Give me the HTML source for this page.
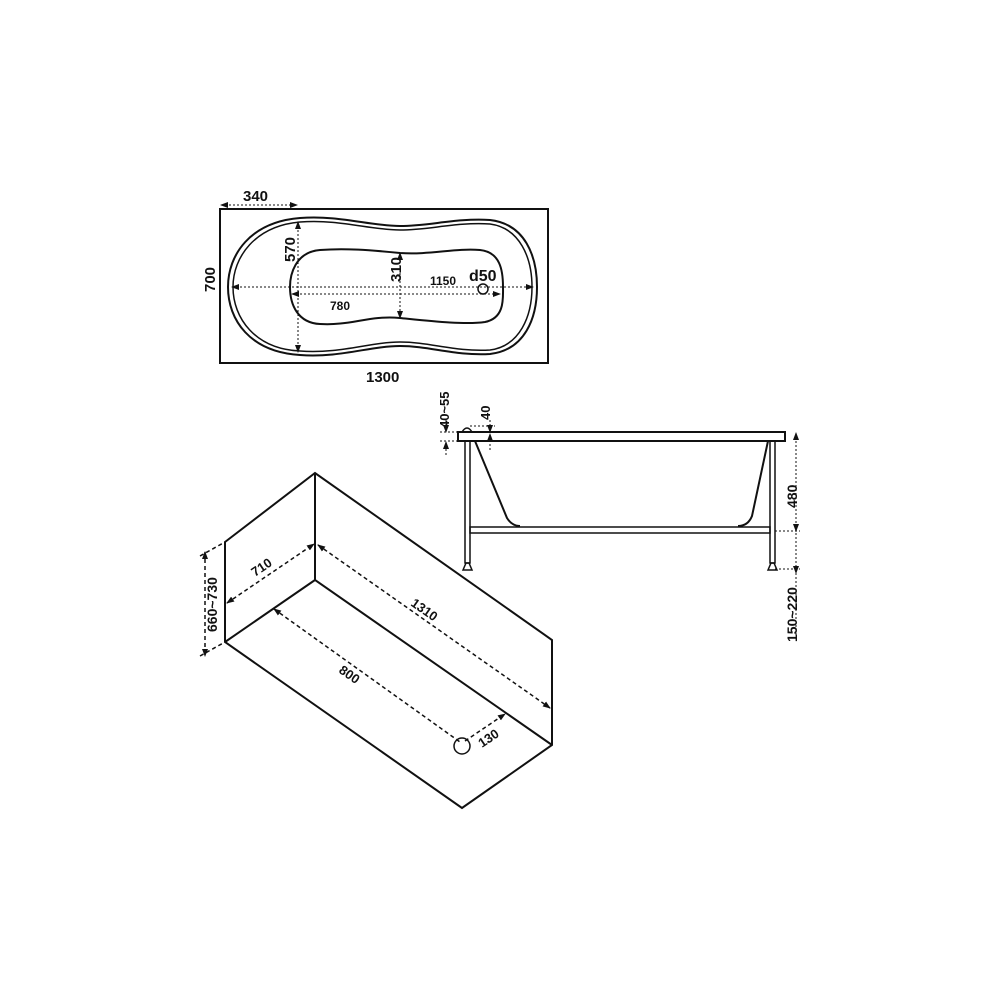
<!DOCTYPE html>
<html><head><style>body{margin:0;background:#fff}svg{display:block}text{font-family:"Liberation Sans",sans-serif;font-weight:bold;fill:#111}</style></head><body>
<svg width="1000" height="1000" viewBox="0 0 1000 1000" xmlns="http://www.w3.org/2000/svg">
<defs><marker id="a" markerWidth="8" markerHeight="8" refX="7" refY="4" orient="auto-start-reverse" markerUnits="userSpaceOnUse"><path d="M0,1 L8,4 L0,7z" fill="#111"/></marker></defs>
<g stroke="#111" fill="none">
<rect x="220" y="209" width="328" height="154" stroke-width="2"/>
<path d="M300,218 C250,222 228,255 228,287 C228,320 250,352 300,355 C340,358 370,346 400,346 C430,346 455,356 490,354 C525,350 537,318 537,287 C537,256 525,224 490,220 C455,218 430,226 400,226 C370,226 340,215 300,218Z" stroke-width="2"/>
<path d="M300,222 C255,226 233,257 233,287 C233,318 255,349 300,351 C340,354 370,342 400,342 C430,342 455,352 490,350 C520,346 532,316 532,287 C532,258 520,228 490,224 C455,222 430,230 400,230 C370,230 340,219 300,222Z" stroke-width="1.5"/>
<path d="M320,250 C295,252 290,275 290,287 C290,305 298,323 320,324 C350,326 370,315 400,318 C430,321 465,325 485,322 C505,318 503,298 503,287 C503,270 500,252 480,250 C455,248 430,255 400,253 C370,250 345,248 320,250Z" stroke-width="2"/>
<circle cx="483" cy="289" r="5" stroke-width="1.5"/>
<g stroke-width="1" stroke-dasharray="2,2">
<line x1="232" y1="287" x2="533" y2="287" marker-start="url(#a)" marker-end="url(#a)"/>
<line x1="292" y1="294" x2="500" y2="294" marker-start="url(#a)" marker-end="url(#a)"/>
<line x1="298" y1="222" x2="298" y2="352" marker-start="url(#a)" marker-end="url(#a)"/>
<line x1="400" y1="253" x2="400" y2="318" marker-start="url(#a)" marker-end="url(#a)"/>
<line x1="221" y1="205" x2="297" y2="205" marker-start="url(#a)" marker-end="url(#a)"/>
</g>
<rect x="458" y="432" width="327" height="9" stroke-width="2"/>
<path d="M462,432 Q467,424 472,432" stroke-width="1.5"/>
<rect x="465" y="441" width="5" height="122" stroke-width="1.5"/>
<rect x="770" y="441" width="5" height="122" stroke-width="1.5"/>
<rect x="470" y="527" width="300" height="6" stroke-width="1.5"/>
<path d="M463,570 L466,563 L469,563 L472,570Z M768,570 L771,563 L774,563 L777,570Z" stroke-width="1.5"/>
<path d="M475,441 L507,518 Q512,526 520,526 M768,441 L752,516 Q748,526 738,526" stroke-width="2"/>
<g stroke-width="1" stroke-dasharray="2,2">
<line x1="796" y1="433" x2="796" y2="531" marker-start="url(#a)" marker-end="url(#a)"/>
<line x1="796" y1="533" x2="796" y2="640"/>
<line x1="796" y1="570" x2="796" y2="573" marker-end="url(#a)"/>
<line x1="775" y1="531" x2="800" y2="531"/><line x1="775" y1="569" x2="800" y2="569"/>
<line x1="446" y1="420" x2="446" y2="432" marker-end="url(#a)"/>
<line x1="446" y1="455" x2="446" y2="442" marker-end="url(#a)"/>
<line x1="440" y1="432" x2="470" y2="432"/><line x1="440" y1="441" x2="460" y2="441"/>
<line x1="490" y1="420" x2="490" y2="432" marker-end="url(#a)"/>
<line x1="490" y1="450" x2="490" y2="434" marker-end="url(#a)"/>
<line x1="470" y1="426" x2="495" y2="426"/>
</g>
<g stroke-width="2">
<path d="M225,542 L315,473 L552,640 L552,745 L462,808 L225,642 Z"/>
<path d="M315,473 L315,580 L552,745 M225,642 L315,580"/>
</g>
<g stroke-width="1.5" stroke-dasharray="4,3">
<line x1="205" y1="552" x2="205" y2="656" marker-start="url(#a)" marker-end="url(#a)"/>
<line x1="200" y1="556" x2="225" y2="542"/><line x1="200" y1="656" x2="225" y2="642"/>
<line x1="227" y1="603" x2="314" y2="544" marker-start="url(#a)" marker-end="url(#a)"/>
<line x1="318" y1="545" x2="550" y2="708" marker-start="url(#a)" marker-end="url(#a)"/>
<line x1="274" y1="609" x2="460" y2="742" marker-start="url(#a)"/>
<line x1="465" y1="741" x2="505" y2="714" marker-end="url(#a)"/>
</g>
<circle cx="462" cy="746" r="8" stroke-width="1.5"/>
</g>
<g font-size="15">
<text x="243" y="201">340</text>
<text x="366" y="382">1300</text>
<text transform="translate(215,292) rotate(-90)">700</text>
<text transform="translate(295,262) rotate(-90)">570</text>
<text transform="translate(401,282) rotate(-90)">310</text>
<text x="469" y="281" font-size="16">d50</text>
<text x="430" y="285" font-size="12">1150</text>
<text x="330" y="310" font-size="12">780</text>
<text transform="translate(449,428) rotate(-90)" font-size="13">40~55</text>
<text transform="translate(490,420) rotate(-90)" font-size="13">40</text>
<text transform="translate(797,508) rotate(-90)" font-size="14">480</text>
<text transform="translate(797,642) rotate(-90)" font-size="14">150~220</text>
<text transform="translate(217,632) rotate(-90)" font-size="14">660~730</text>
<text transform="translate(255,577) rotate(-34)" font-size="13">710</text>
<text transform="translate(410,605) rotate(35)" font-size="13">1310</text>
<text transform="translate(338,672) rotate(35)" font-size="13">800</text>
<text transform="translate(482,748) rotate(-34)" font-size="13">130</text>
</g>
</svg>
</body></html>
